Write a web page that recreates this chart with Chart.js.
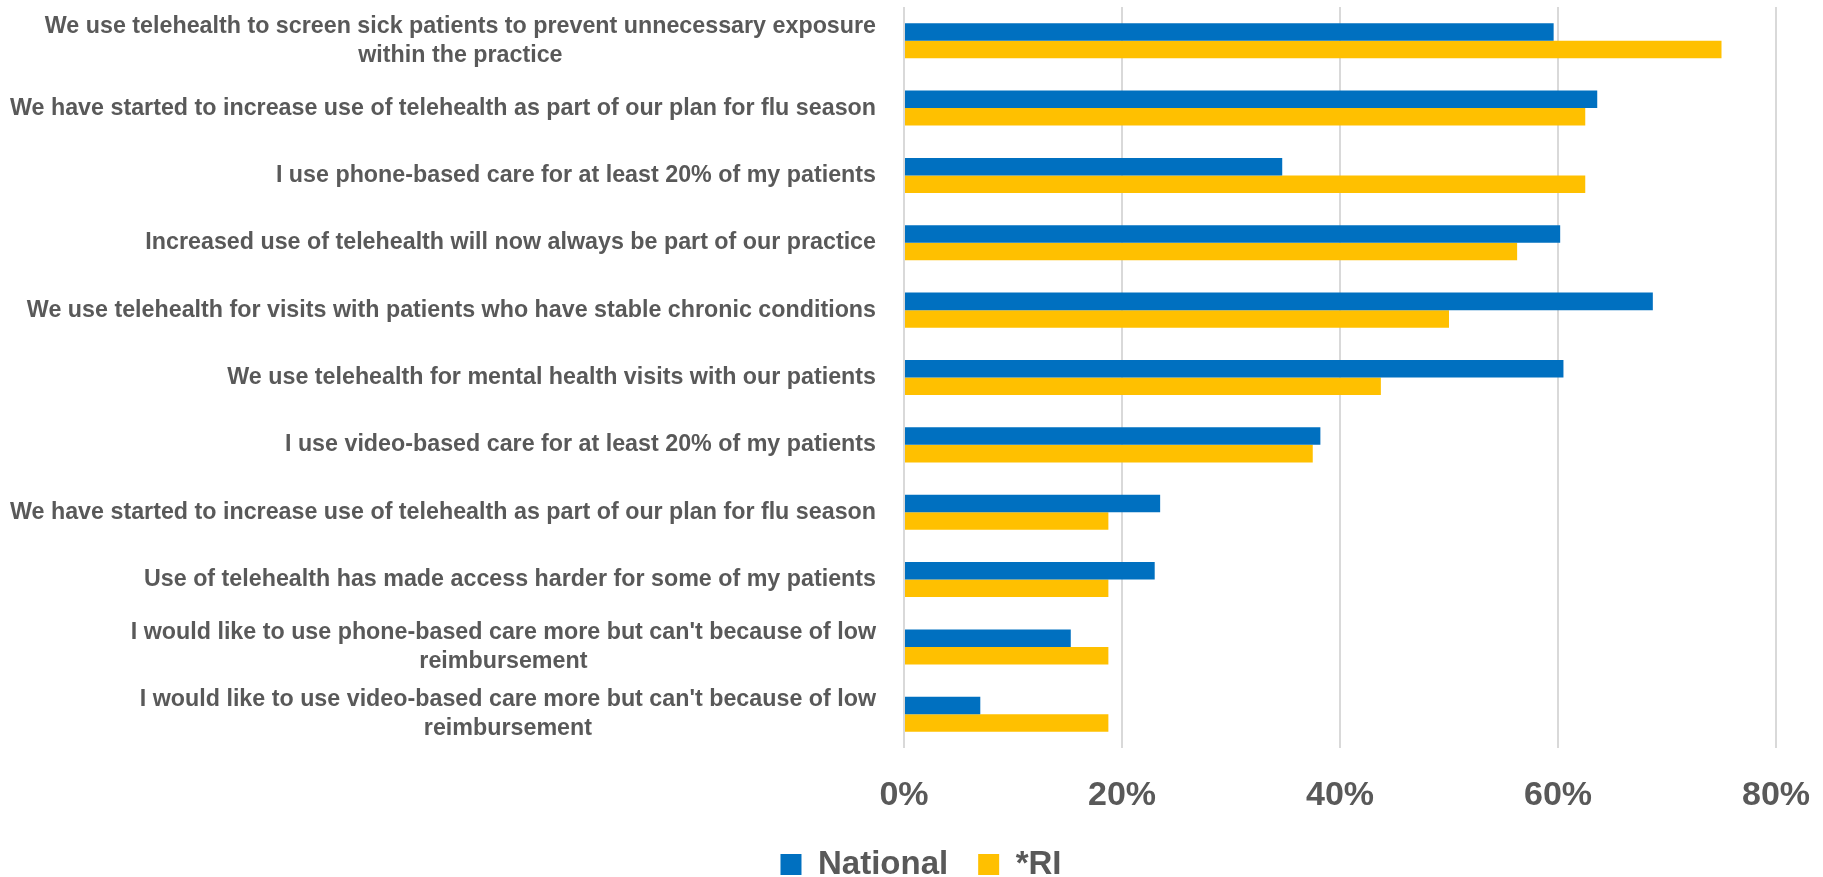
<!DOCTYPE html>
<html lang="en">
<head>
<meta charset="UTF-8">
<title>Telehealth use - National vs RI</title>
<script src="https://cdn.jsdelivr.net/npm/chart.js"></script>
<style>
  html, body { margin: 0; padding: 0; background: #ffffff; }
  canvas { display: block; }
</style>
</head>
<body>
<canvas id="myChart" width="1823" height="877"></canvas>
<script>
// categories top to bottom, two-line labels as arrays
const categories = [
  ['We use telehealth to screen sick patients to prevent unnecessary exposure', 'within the practice'],
  'We have started to increase use of telehealth as part of our plan for flu season',
  'I use phone-based care for at least 20% of my patients',
  'Increased use of telehealth will now always be part of our practice',
  'We use telehealth for visits with patients who have stable chronic conditions',
  'We use telehealth for mental health visits with our patients',
  'I use video-based care for at least 20% of my patients',
  'We have started to increase use of telehealth as part of our plan for flu season',
  'Use of telehealth has made access harder for some of my patients',
  ["I would like to use phone-based care more but can't because of low", 'reimbursement'],
  ["I would like to use video-based care more but can't because of low", 'reimbursement']
];
const nationalValues = [59.6, 63.6, 34.7, 60.2, 68.7, 60.5, 38.2, 23.5, 23.0, 15.3, 7.0];
const riValues = [75.0, 62.5, 62.5, 56.25, 50.0, 43.75, 37.5, 18.75, 18.75, 18.75, 18.75];
const xTickLabels = ['0%', '20%', '40%', '60%', '80%'];

const fontFamily = '"Liberation Sans", Arial, sans-serif';
const textColor = '#595959';

// Excel-style category labels: first line right aligned, second line centred under it.
// The original font is a narrow one, so the text is squeezed a little to the same width.
const categoryLabels = {
  id: 'categoryLabels',
  afterDraw(chart) {
    const ctx = chart.ctx;
    const yScale = chart.scales.y;
    const right = chart.chartArea.left - 28;
    const lineGap = 29;
    ctx.save();
    ctx.font = 'bold 24px ' + fontFamily;
    ctx.fillStyle = textColor;
    ctx.textBaseline = 'middle';
    let widest = 0;
    categories.forEach(label => {
      const first = Array.isArray(label) ? label[0] : label;
      widest = Math.max(widest, ctx.measureText(first).width);
    });
    const sx = Math.min(1, 866 / widest);
    categories.forEach((label, i) => {
      const lines = Array.isArray(label) ? label : [label];
      const cy = yScale.getPixelForValue(i);
      const firstW = ctx.measureText(lines[0]).width * sx;
      lines.forEach((line, k) => {
        const ly = cy + (k - (lines.length - 1) / 2) * lineGap;
        const lx = k === 0 ? right : right - firstW / 2;
        ctx.save();
        ctx.translate(lx, ly);
        ctx.scale(sx, 1);
        ctx.textAlign = k === 0 ? 'right' : 'center';
        ctx.fillText(line, 0, 0);
        ctx.restore();
      });
    });
    ctx.restore();
  }
};

const ctx = document.getElementById('myChart').getContext('2d');
new Chart(ctx, {
  type: 'bar',
  data: {
    labels: categories.map(c => Array.isArray(c) ? c.join(' ') : c),
    datasets: [
      {
        label: 'National',
        data: nationalValues,
        backgroundColor: '#0070C0',
        categoryPercentage: 0.52,
        barPercentage: 1.0
      },
      {
        label: '*RI',
        data: riValues,
        backgroundColor: '#FFC000',
        categoryPercentage: 0.52,
        barPercentage: 1.0
      }
    ]
  },
  options: {
    indexAxis: 'y',
    responsive: false,
    animation: false,
    layout: {
      padding: { top: 7, right: 47, left: 66, bottom: -14 }
    },
    scales: {
      x: {
        min: 0,
        max: 80,
        grid: {
          color: '#D9D9D9',
          lineWidth: 2,
          drawTicks: false
        },
        border: { display: false },
        ticks: {
          stepSize: 20,
          padding: 27,
          color: textColor,
          font: { family: fontFamily, size: 34, weight: 'bold' },
          callback: (value, index) => xTickLabels[index]
        },
        afterFit: (scale) => {
          scale.height = 70;
          scale.paddingLeft = 0;
          scale.paddingRight = 0;
        }
      },
      y: {
        grid: { display: false },
        border: { display: false },
        ticks: { display: false },
        afterFit: (scale) => { scale.width = 838; }
      }
    },
    plugins: {
      legend: {
        position: 'bottom',
        labels: {
          color: textColor,
          boxWidth: 21,
          boxHeight: 21,
          padding: 30,
          font: { family: fontFamily, size: 33, weight: 'bold' }
        }
      },
      tooltip: { enabled: false }
    }
  },
  plugins: [categoryLabels]
});
</script>
</body>
</html>
